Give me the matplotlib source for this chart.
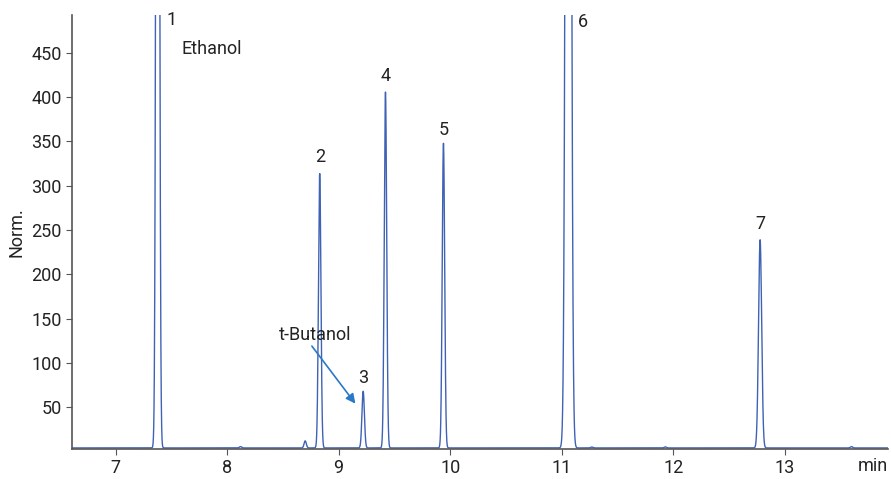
import matplotlib
matplotlib.use("Agg")
import matplotlib.pyplot as plt
import numpy as np

plt.rcParams['font.family'] = ['Roboto', 'DejaVu Sans']

# peak table: retention time (min), height, sigma (min)
peak_rt = [7.377, 8.12, 8.70, 8.83, 9.22, 9.42, 9.94, 11.06, 11.27, 11.93, 12.78, 13.60]
peak_height = [2000, 1.5, 8, 310, 64, 402, 344, 2500, 1.0, 1.2, 235, 1.5]
peak_sigma = [0.012, 0.01, 0.01, 0.011, 0.011, 0.011, 0.011, 0.018, 0.01, 0.01, 0.014, 0.01]
baseline = 4.0

labels = ["1", "2", "3", "4", "5", "6", "7"]
label_x = [7.39, 8.83, 9.22, 9.42, 9.94, 11.08, 12.78]
label_y = [487, 332, 83, 424, 363, 485, 257]

x = np.linspace(6.6, 13.93, 8000)
y = np.full_like(x, baseline)
for rt, h, s in zip(peak_rt, peak_height, peak_sigma):
    y += h * np.exp(-0.5 * ((x - rt) / s) ** 2)

fig = plt.figure(figsize=(8.91, 4.79), dpi=100)
ax = fig.add_axes([0.081, 0.063, 0.916, 0.906])
ax.plot(x, y, color='#3f62b5', lw=1.0)

ax.set_xlim(6.61, 13.93)
ax.set_ylim(3, 493)
ax.set_xticks([7, 8, 9, 10, 11, 12, 13])
ax.set_yticks([50, 100, 150, 200, 250, 300, 350, 400, 450])
ax.tick_params(labelsize=13, length=4, color='#555555', labelcolor='#222222')
for side in ['top', 'right']:
    ax.spines[side].set_visible(False)
for side in ['left', 'bottom']:
    ax.spines[side].set_color('#555555')
    ax.spines[side].set_linewidth(1.2)
ax.set_ylabel("Norm.", fontsize=13, color='#222222', labelpad=4)

for t, lx, ly in zip(labels, label_x, label_y):
    if t in ("1", "6"):
        ax.text(lx + 0.07, ly, t, fontsize=13, ha='left', va='center', color='#222222')
    else:
        ax.text(lx, ly, t, fontsize=13, ha='center', va='center', color='#222222')

ax.text(7.59, 455, "Ethanol", fontsize=13, ha='left', va='center', color='#222222')
ax.text(8.46, 131, "t-Butanol", fontsize=13, ha='left', va='center', color='#222222')
ax.annotate("", xy=(9.15, 54), xytext=(8.76, 119),
            arrowprops=dict(arrowstyle='-|>', color='#2a78c8', lw=1.2,
                            shrinkA=0, shrinkB=0, mutation_scale=14))
ax.text(1.0, -0.04, "min", fontsize=13, ha='right', va='center',
        color='#222222', transform=ax.transAxes)

fig.savefig("out.png", dpi=100)
